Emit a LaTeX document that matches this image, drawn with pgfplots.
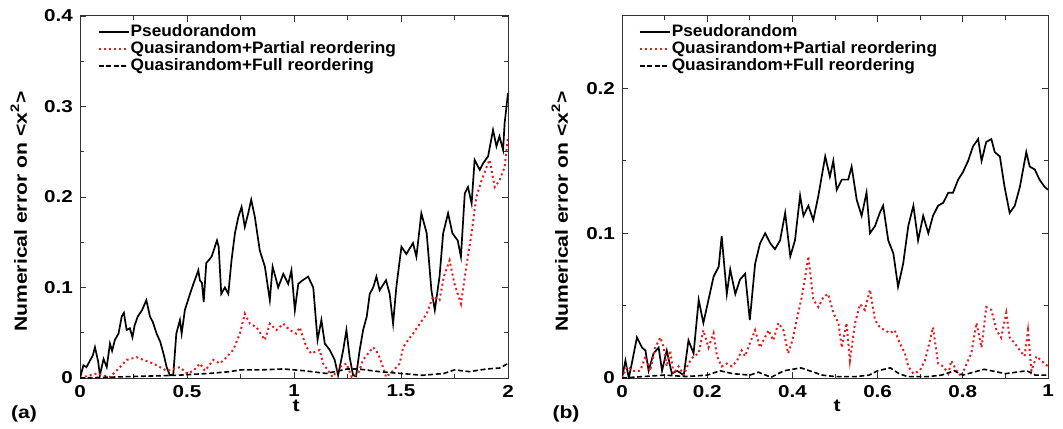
\documentclass[border=0pt]{standalone}
\usepackage{fontspec}
\setmainfont{Liberation Sans}
\newfontfamily\tickfont[FakeStretch=1.2, BoldFeatures={FakeStretch=1.2}]{Liberation Sans}
\newfontfamily\legfont[FakeStretch=1.04, BoldFeatures={FakeStretch=1.04}]{Liberation Sans}
\usepackage{pgfplots}
\pgfplotsset{compat=1.18}
\definecolor{gpred}{RGB}{232,28,32}

\pgfplotsset{
  gp/.style={
    scale only axis, anchor=south west,
    height=181pt,
    axis line style={black!80, line width=0.5pt},
    tick style={black!80, line width=0.4pt},
    major tick length=3pt, minor tick length=1.8pt,
    tick align=inside,
    /pgf/number format/assume math mode=true,
    tick label style={font=\tickfont\bfseries\fontsize{8.6}{9}\selectfont},
    label style={font=\tickfont\bfseries\fontsize{8.8}{10}\selectfont},
    xlabel={t},
    xlabel style={at={(axis description cs:0.505,-0.078)}, anchor=center},
    ylabel={Numerical error on <x\textsuperscript{2}>},
    legend cell align=left,
    legend style={draw=none, fill=none, inner sep=0pt, anchor=north west,
      font=\legfont\bfseries\fontsize{8.3}{8.3}\selectfont, row sep=0pt,
      nodes={text height=5.8pt, text depth=1.6pt, inner sep=0.6pt}},
    legend image code/.code={\draw[#1] (0pt,0pt) -- (15pt,0pt);},
  },
  pseudo/.style={black, line width=0.85pt},
  partial/.style={gpred, line width=1pt, dash pattern=on 1pt off 1.5pt},
  full/.style={black, line width=0.8pt, dash pattern=on 2.5pt off 1.3pt},
}

\begin{document}
\begin{tikzpicture}
\useasboundingbox (0,0) rectangle (531.5pt,214pt);

% (a)
\begin{axis}[gp, at={(40pt,25pt)}, width=214pt,
    xmin=0, xmax=2, ymin=0, ymax=0.4,
    xtick={0,0.5,1,1.5,2}, minor x tick num=1,
    ytick={0,0.1,0.2,0.3,0.4}, minor y tick num=1,
    ylabel style={at={(axis description cs:-0.143,0.46)}, anchor=center},
    legend style={at={(axis description cs:0.04,0.981)}},
]
\addplot[pseudo] coordinates {
(0,0) (0.016,0.014) (0.03,0.012) (0.06,0.025) (0.07,0.034) (0.085,0.018) (0.093,0.003) (0.11,0.021) (0.125,0.012) (0.14,0.038) (0.15,0.03) (0.163,0.042) (0.18,0.049) (0.195,0.068) (0.205,0.072) (0.218,0.053) (0.233,0.055) (0.245,0.045) (0.255,0.058) (0.27,0.068) (0.29,0.075) (0.31,0.086) (0.327,0.068) (0.34,0.062) (0.358,0.049) (0.375,0.04) (0.39,0.027) (0.405,0.012) (0.42,0.003) (0.436,0.004) (0.45,0.049) (0.467,0.064) (0.475,0.049) (0.49,0.075) (0.514,0.093) (0.53,0.104) (0.553,0.119) (0.56,0.108) (0.57,0.105) (0.578,0.084) (0.59,0.127) (0.615,0.134) (0.64,0.152) (0.648,0.145) (0.66,0.093) (0.677,0.10) (0.693,0.093) (0.708,0.13) (0.724,0.16) (0.74,0.178) (0.755,0.189) (0.77,0.167) (0.786,0.182) (0.80,0.197) (0.817,0.178) (0.84,0.141) (0.864,0.123) (0.887,0.086) (0.90,0.123) (0.915,0.11) (0.926,0.10) (0.95,0.115) (0.973,0.104) (0.988,0.119) (1.004,0.075) (1.02,0.104) (1.04,0.108) (1.066,0.112) (1.09,0.10) (1.11,0.042) (1.128,0.064) (1.144,0.038) (1.167,0.031) (1.19,0.02) (1.206,0.003) (1.23,0.031) (1.245,0.053) (1.26,0.023) (1.276,0.003) (1.29,0.002) (1.307,0.031) (1.323,0.053) (1.34,0.068) (1.354,0.093) (1.37,0.10) (1.385,0.112) (1.40,0.097) (1.43,0.108) (1.447,0.093) (1.463,0.06) (1.478,0.10) (1.502,0.145) (1.525,0.137) (1.556,0.149) (1.572,0.134) (1.595,0.182) (1.62,0.16) (1.642,0.097) (1.658,0.075) (1.68,0.112) (1.697,0.16) (1.72,0.182) (1.74,0.16) (1.765,0.152) (1.78,0.134) (1.798,0.204) (1.813,0.211) (1.83,0.193) (1.844,0.241) (1.868,0.23) (1.883,0.237) (1.907,0.245) (1.93,0.274) (1.946,0.256) (1.96,0.267) (1.977,0.252) (1.984,0.281) (2.0,0.315)
};
\addlegendentry{Pseudorandom}
\addplot[partial] coordinates {
(0,0) (0.078,0.005) (0.14,0.001) (0.187,0.012) (0.218,0.02) (0.265,0.023) (0.296,0.02) (0.342,0.016) (0.374,0.012) (0.405,0.008) (0.436,0.01) (0.467,0.012) (0.5,0.005) (0.53,0.008) (0.56,0.016) (0.584,0.008) (0.623,0.02) (0.654,0.016) (0.685,0.023) (0.716,0.031) (0.747,0.049) (0.77,0.071) (0.794,0.06) (0.825,0.056) (0.864,0.042) (0.887,0.06) (0.918,0.053) (0.95,0.06) (0.98,0.053) (1.01,0.049) (1.027,0.056) (1.058,0.034) (1.08,0.027) (1.12,0.031) (1.136,0.016) (1.16,0.008) (1.18,0.001) (1.214,0.012) (1.245,0.016) (1.27,0.001) (1.30,0.005) (1.323,0.02) (1.346,0.027) (1.37,0.034) (1.393,0.027) (1.416,0.012) (1.43,0.001) (1.463,0.008) (1.494,0.016) (1.51,0.034) (1.533,0.042) (1.556,0.049) (1.588,0.06) (1.62,0.071) (1.65,0.09) (1.68,0.086) (1.70,0.112) (1.727,0.13) (1.75,0.104) (1.78,0.082) (1.805,0.123) (1.83,0.16) (1.852,0.20) (1.876,0.218) (1.9,0.233) (1.914,0.241) (1.938,0.211) (1.96,0.218) (1.984,0.233) (2.0,0.266)
};
\addlegendentry{Quasirandom+Partial reordering}
\addplot[full] coordinates {
(0,0) (0.15,0.001) (0.3,0.002) (0.45,0.003) (0.6,0.005) (0.7,0.007) (0.75,0.009) (0.85,0.009) (0.95,0.01) (1.05,0.008) (1.15,0.005) (1.25,0.01) (1.3,0.01) (1.4,0.007) (1.5,0.005) (1.6,0.003) (1.7,0.005) (1.75,0.009) (1.82,0.007) (1.9,0.01) (1.96,0.011) (2,0.016)
};
\addlegendentry{Quasirandom+Full reordering}
\end{axis}

% (b)
\begin{axis}[gp, at={(311pt,25pt)}, width=213pt,
    xmin=0, xmax=1, ymin=0, ymax=0.25,
    xtick={0,0.2,0.4,0.6,0.8,1}, minor x tick num=1,
    ytick={0,0.1,0.2}, minor y tick num=1,
    ylabel style={at={(axis description cs:-0.146,0.46)}, anchor=center},
    legend style={at={(axis description cs:0.038,0.981)}},
]
\addplot[pseudo] coordinates {
(0,0) (0.008,0.012) (0.016,0) (0.023,0.01) (0.035,0.028) (0.047,0.021) (0.055,0.019) (0.0625,0.005) (0.074,0.017) (0.086,0.021) (0.094,0.005) (0.105,0.019) (0.117,0.003) (0.129,0.005) (0.145,0.002) (0.156,0.026) (0.168,0.017) (0.18,0.054) (0.191,0.038) (0.203,0.054) (0.215,0.07) (0.227,0.077) (0.234,0.098) (0.246,0.058) (0.254,0.075) (0.266,0.058) (0.277,0.068) (0.289,0.072) (0.30,0.04) (0.3125,0.079) (0.324,0.093) (0.336,0.10) (0.348,0.093) (0.359,0.089) (0.371,0.095) (0.383,0.114) (0.395,0.084) (0.406,0.095) (0.418,0.126) (0.426,0.112) (0.4375,0.119) (0.449,0.109) (0.461,0.126) (0.477,0.153) (0.488,0.139) (0.496,0.150) (0.504,0.130) (0.516,0.137) (0.531,0.137) (0.539,0.146) (0.551,0.123) (0.5625,0.112) (0.574,0.128) (0.582,0.10) (0.594,0.105) (0.605,0.114) (0.613,0.119) (0.625,0.095) (0.637,0.086) (0.648,0.063) (0.66,0.079) (0.672,0.105) (0.684,0.119) (0.695,0.095) (0.707,0.112) (0.719,0.10) (0.73,0.112) (0.742,0.119) (0.754,0.121) (0.766,0.128) (0.777,0.128) (0.789,0.137) (0.80,0.142) (0.8125,0.150) (0.824,0.160) (0.836,0.165) (0.844,0.150) (0.855,0.163) (0.867,0.165) (0.875,0.156) (0.887,0.153) (0.898,0.132) (0.91,0.114) (0.922,0.119) (0.934,0.132) (0.949,0.156) (0.957,0.146) (0.969,0.144) (0.98,0.137) (0.992,0.132) (1.0,0.130)
};
\addlegendentry{Pseudorandom}
\addplot[partial] coordinates {
(0,0) (0.012,0.008) (0.027,0.005) (0.043,0.005) (0.055,0.015) (0.066,0.005) (0.078,0.021) (0.09,0.028) (0.098,0.021) (0.105,0.008) (0.113,0.019) (0.121,0.003) (0.133,0.008) (0.145,0.002) (0.156,0.01) (0.168,0.015) (0.18,0.017) (0.191,0.033) (0.203,0.021) (0.215,0.031) (0.223,0.015) (0.234,0.008) (0.246,0.01) (0.258,0.008) (0.27,0.012) (0.281,0.019) (0.289,0.015) (0.30,0.024) (0.3125,0.033) (0.324,0.021) (0.332,0.026) (0.344,0.033) (0.355,0.026) (0.367,0.038) (0.379,0.033) (0.39,0.017) (0.40,0.026) (0.41,0.04) (0.422,0.056) (0.43,0.07) (0.4375,0.084) (0.449,0.054) (0.461,0.049) (0.473,0.056) (0.484,0.058) (0.496,0.045) (0.508,0.038) (0.516,0.021) (0.527,0.038) (0.535,0.012) (0.547,0.038) (0.559,0.051) (0.57,0.047) (0.582,0.061) (0.594,0.040) (0.605,0.035) (0.617,0.033) (0.629,0.031) (0.64,0.033) (0.652,0.024) (0.664,0.017) (0.672,0.008) (0.684,0.003) (0.699,0.005) (0.711,0.012) (0.723,0.026) (0.73,0.035) (0.742,0.01) (0.754,0.008) (0.766,0.003) (0.773,0.012) (0.785,0.005) (0.797,0.001) (0.809,0.01) (0.82,0.017) (0.832,0.038) (0.844,0.021) (0.855,0.049) (0.867,0.047) (0.879,0.033) (0.89,0.028) (0.902,0.045) (0.91,0.028) (0.922,0.024) (0.934,0.019) (0.945,0.015) (0.953,0.033) (0.961,0.005) (0.973,0.015) (0.984,0.012) (1.0,0.008)
};
\addlegendentry{Quasirandom+Partial reordering}
\addplot[full] coordinates {
(0,0) (0.05,0.001) (0.1,0.002) (0.15,0.001) (0.2,0.002) (0.23,0.005) (0.26,0.003) (0.3,0.002) (0.32,0.004) (0.35,0.0005) (0.38,0.005) (0.42,0.007) (0.44,0.005) (0.47,0.002) (0.5,0.001) (0.55,0.001) (0.58,0.002) (0.6,0.005) (0.63,0.007) (0.65,0.003) (0.67,0.001) (0.72,0.001) (0.75,0.002) (0.78,0.005) (0.8,0.002) (0.85,0.006) (0.9,0.003) (0.95,0.005) (0.97,0.002) (1,0.002)
};
\addlegendentry{Quasirandom+Full reordering}
\end{axis}

\node[font=\tickfont\bfseries\fontsize{8.8}{10}\selectfont] at (12pt,7pt) {(a)};
\node[font=\tickfont\bfseries\fontsize{8.8}{10}\selectfont] at (283pt,7pt) {(b)};
\end{tikzpicture}
\end{document}
